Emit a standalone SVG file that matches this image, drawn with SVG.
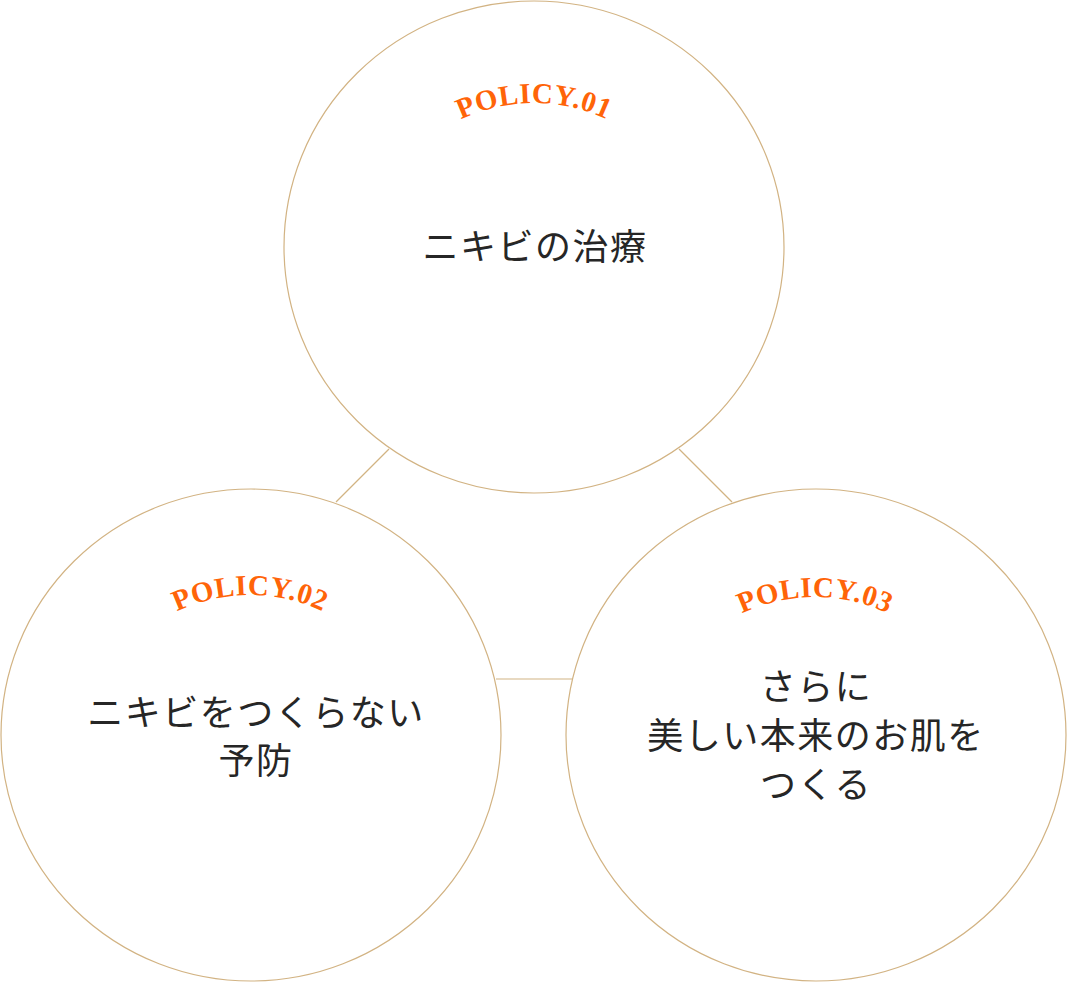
<svg xmlns="http://www.w3.org/2000/svg" xmlns:xlink="http://www.w3.org/1999/xlink" width="1067" height="983" viewBox="0 0 1067 983">
<style>
.ring{fill:#fff;stroke:#d2b383;stroke-width:1.2}
.link{stroke:#d2b383;stroke-width:1.2;fill:none}
.pol{font-family:"Liberation Serif","DejaVu Serif",serif;font-size:29px;font-weight:bold;fill:#ff6408;letter-spacing:0.5px}
.main{font-family:"Noto Sans CJK JP",sans-serif;font-size:36px;fill:#262626;letter-spacing:1.5px;text-anchor:middle}
</style>
<defs>
<path id="arc1" d="M 384,193 A 170 170 0 0 1 684,193"/>
<path id="arc2" d="M 100,685 A 170 170 0 0 1 400,685"/>
<path id="arc3" d="M 665,687 A 170 170 0 0 1 965,687"/>
</defs>
<rect width="1067" height="983" fill="#fff"/>
<g id="connectors">
<line class="link" x1="389" y1="449" x2="336" y2="502"/>
<line class="link" x1="679" y1="449" x2="732" y2="502"/>
<line class="link" x1="496" y1="679" x2="572" y2="679"/>
</g>
<g id="policy01">
<ellipse class="ring" cx="534" cy="247" rx="250" ry="246"/>
<text class="pol"><textPath xlink:href="#arc1" href="#arc1" startOffset="50%" text-anchor="middle">POLICY.01</textPath></text>
<text class="main" x="535" y="260">ニキビの治療</text>
</g>
<g id="policy02">
<ellipse class="ring" cx="251" cy="735" rx="250" ry="246"/>
<text class="pol"><textPath xlink:href="#arc2" href="#arc2" startOffset="50%" text-anchor="middle">POLICY.02</textPath></text>
<text class="main" x="256" y="726">ニキビをつくらない</text>
<text class="main" x="256" y="774">予防</text>
</g>
<g id="policy03">
<ellipse class="ring" cx="816" cy="735" rx="250" ry="246"/>
<text class="pol"><textPath xlink:href="#arc3" href="#arc3" startOffset="50%" text-anchor="middle">POLICY.03</textPath></text>
<text class="main" x="816" y="700">さらに</text>
<text class="main" x="816" y="749">美しい本来のお肌を</text>
<text class="main" x="816" y="798">つくる</text>
</g>
</svg>
